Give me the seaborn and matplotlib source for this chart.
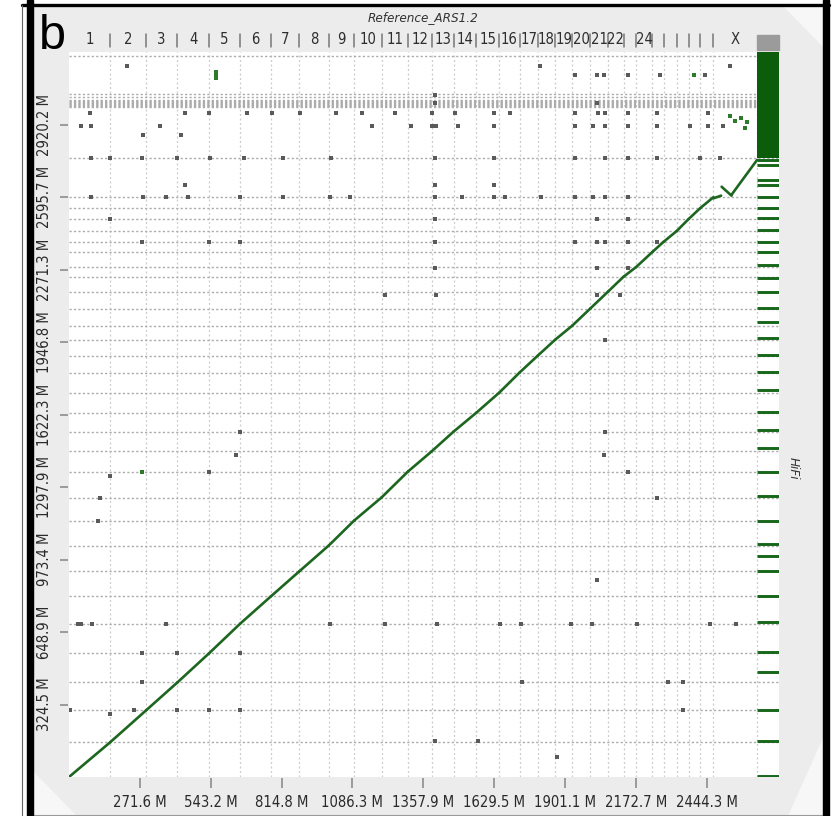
import numpy as np
import pandas as pd
import matplotlib
matplotlib.use("Agg")
import matplotlib.pyplot as plt
import seaborn as sns
from matplotlib import transforms, font_manager as fm
from matplotlib.patches import Rectangle, Polygon
from matplotlib.lines import Line2D

# ------------------------------------------------------------------ data
ref_chroms = [str(i) for i in range(1, 30)] + ["X"]
ref_labels = [str(i) for i in range(1, 23)] + ["", "24", "", "", "", "", "", "X"]
# cumulative end (M) of every reference (ARS1.2) chromosome
ref_ends = [157.4, 295.2, 415.3, 536.4, 656.9, 773.6, 882.5, 995.8, 1093.4,
            1198.2, 1299.3, 1389.9, 1474.5, 1562.2, 1649.2, 1727.2, 1797.3,
            1863.6, 1929.3, 1997.8, 2066.1, 2125.9, 2174.8, 2236.6, 2279.2,
            2330.1, 2375.1, 2419.8, 2470.5, 2638.0]
ref_total = 2722.0
# cumulative end (M) of every HiFi chromosome, same order
hifi_ends = [155, 298, 423, 553, 687, 808, 920, 1036, 1148, 1251, 1367, 1457,
             1546, 1631, 1720, 1810, 1886, 1957, 2020, 2096, 2172, 2239, 2283,
             2350, 2395, 2444, 2497, 2546, 2595, 2770]
# boundaries of unplaced HiFi contigs
hifi_unplaced = [2998, 3002, 3007, 3011, 3016, 3020, 3025, 3029, 3044, 3055, 3226]
hifi_total = 3245.0

x_ticks = [271.6, 543.2, 814.8, 1086.3, 1357.9, 1629.5, 1901.1, 2172.7, 2444.3]
y_ticks = [324.5, 648.9, 973.4, 1297.9, 1622.3, 1946.8, 2271.3, 2595.7, 2920.2]

# chromosome X alignments (with a small inversion)
x_aln_ref = [(2470.5, 2500.0), (2502.0, 2540.0), (2540.0, 2638.0)]
x_aln_hifi = [(2590.0, 2602.0), (2642.0, 2602.0), (2606.0, 2762.0)]

# hits of HiFi contigs on the unplaced reference scaffolds
unplaced_hits = [2761, 2738, 2671, 2649, 2595, 2546, 2501, 2448, 2395, 2350,
                 2292, 2233, 2171, 2100, 2037, 1966, 1890, 1814, 1734, 1635,
                 1555, 1474, 1367, 1256, 1145, 1042, 988, 921, 809, 693, 559,
                 469, 298, 159, 3]
unplaced_block = (2770.0, 3245.0)

# scattered off-diagonal hits (ref M, HiFi M)
dot_ref = [222, 1806, 2535, 1940, 2025, 2052, 2144, 2266, 2439,
           1403, 1403, 2025,
           80, 445, 536, 682, 778, 885, 1024, 1124, 1250, 1392, 1480, 1630, 1692,
           1940, 2029, 2056, 2144, 2256, 2451,
           45, 84, 348, 1162, 1312, 1392, 1408, 1492, 1630, 1940, 2009, 2056, 2144,
           2256, 2381, 2451, 2509,
           283, 429,
           84, 157, 279, 414, 540, 670, 820, 1005, 1403, 1630, 1940, 2056, 2144, 2256, 2420, 2497,
           445, 1403, 1630,
           84, 283, 371, 456, 655, 820, 1000, 1077, 1403, 1507, 1630, 1672, 1810, 1940, 2009, 2056, 2144,
           157, 1403, 2025, 2144,
           279, 536, 655, 1403, 1940, 2025, 2056, 2144, 2256,
           1403, 2025, 2144,
           1211, 1408, 2025, 2113,
           2056, 655, 2056, 641, 2052, 536, 2144, 157, 118, 2256, 110, 2025,
           34, 45, 88, 371, 1001, 1211, 1411, 1653, 1733, 1926, 2006, 2178, 2458, 2558,
           279, 414, 655,
           279, 1737, 2298, 2355,
           3, 249, 414, 536, 655, 2355, 157,
           1403, 1568, 1871]
dot_hifi = [3181, 3181, 3181, 3141, 3141, 3141, 3141, 3141, 3141,
            3051, 3015, 3015,
            2970, 2970, 2970, 2970, 2970, 2970, 2970, 2970, 2970, 2970, 2970, 2970, 2970,
            2970, 2970, 2970, 2970, 2970, 2970,
            2913, 2913, 2913, 2913, 2913, 2913, 2913, 2913, 2913, 2913, 2913, 2913, 2913,
            2913, 2913, 2913, 2913,
            2873, 2873,
            2770, 2770, 2770, 2770, 2770, 2770, 2770, 2770, 2770, 2770, 2770, 2770, 2770, 2770, 2770, 2770,
            2649, 2649, 2649,
            2595, 2595, 2595, 2595, 2595, 2595, 2595, 2595, 2595, 2595, 2595, 2595, 2595, 2595, 2595, 2595, 2595,
            2497, 2497, 2497, 2497,
            2395, 2395, 2395, 2395, 2395, 2395, 2395, 2395, 2395,
            2278, 2278, 2278,
            2157, 2157, 2157, 2157,
            1957, 1546, 1546, 1443, 1443, 1367, 1367, 1345, 1251, 1251, 1148, 883,
            687, 687, 687, 687, 687, 687, 687, 687, 687, 687, 687, 687, 687, 687,
            553, 553, 553,
            423, 423, 423, 423,
            298, 298, 298, 298, 298, 298, 284,
            159, 159, 88]
green_dot_ref = [564, 564, 564, 279, 2397, 2535, 2555, 2575, 2600, 2590]
green_dot_hifi = [3154, 3141, 3127, 1367, 3141, 2960, 2935, 2950, 2930, 2905]

# ------------------------------------------------------------------ style
sns.set_style("white")
names = {f.name for f in fm.fontManager.ttflist}
NARROW = "Liberation Sans Narrow" if "Liberation Sans Narrow" in names else "DejaVu Sans"
plt.rcParams["font.family"] = [NARROW, "DejaVu Sans"]
STRETCH = "normal" if NARROW != "DejaVu Sans" else "condensed"
SCALE = 1.0 if NARROW != "DejaVu Sans" else 0.92

W, H = 835, 816
fig = plt.figure(figsize=(W / 100, H / 100), dpi=100, facecolor="white")


def fx(px):
    return px / W


def fy(py):
    return 1 - py / H


# background frame (drawn below the axes)
fig.patches.append(Rectangle((fx(33), fy(816)), fx(823) - fx(33), fy(6) - fy(816),
                             transform=fig.transFigure, color="#ececec", zorder=-10))
for pts in ([(33, 772), (33, 816), (76, 816)],
            [(784, 6), (823, 6), (823, 46)],
            [(823, 738), (823, 816), (788, 816)]):
    fig.patches.append(Polygon([(fx(a), fy(b)) for a, b in pts], closed=True,
                               transform=fig.transFigure, color="#f7f7f7", zorder=-9))
fig.patches.append(Rectangle((fx(27), 0), fx(6), 1, transform=fig.transFigure,
                             color="black", zorder=5))
fig.patches.append(Rectangle((fx(823), 0), fx(6), 1, transform=fig.transFigure,
                             color="black", zorder=5))
fig.lines.append(Line2D([fx(22), fx(829)], [fy(4.5), fy(4.5)], transform=fig.transFigure,
                        color="black", lw=2.4, zorder=5))
fig.lines.append(Line2D([fx(22), fx(22)], [0, fy(4.5)], transform=fig.transFigure,
                        color="#666666", lw=0.8, zorder=5))
fig.lines.append(Line2D([fx(33), fx(823)], [fy(814.5), fy(814.5)], transform=fig.transFigure,
                        color="#9a9a9a", lw=0.8, zorder=5))

ax = fig.add_axes([fx(69), fy(777), fx(779) - fx(69), fy(52) - fy(777)])
ax.set_zorder(2)
ax.set_facecolor("white")
ax.set_xlim(0, ref_total)
ax.set_ylim(0, hifi_total)
for s in ax.spines.values():
    s.set_visible(False)
ax.spines["bottom"].set_position(("outward", 1))
ax.spines["left"].set_position(("outward", 1))

# grid of chromosome / contig boundaries
ax.vlines(ref_ends, 0, hifi_total, colors="#cdcdcd", linestyles=(0, (1.6, 2.0)),
          lw=0.9, zorder=1)
ax.hlines(hifi_ends + hifi_unplaced, 0, ref_total, colors="#ababab",
          linestyles=(0, (1.6, 1.6)), lw=1.0, zorder=1)

# scattered hits
sns.scatterplot(x=dot_ref, y=dot_hifi, ax=ax, color="#5a5a5a", s=5.2, marker="s",
                linewidth=0, zorder=2)
sns.scatterplot(x=green_dot_ref, y=green_dot_hifi, ax=ax, color="#2d7a2d", s=5.2,
                marker="s", linewidth=0, zorder=2)

# main diagonal alignments
rows = []
prev_r, prev_h = 0.0, 0.0
for i in range(29):
    rows.append(dict(seg=i, ref=prev_r, hifi=prev_h))
    rows.append(dict(seg=i, ref=ref_ends[i], hifi=hifi_ends[i]))
    prev_r, prev_h = ref_ends[i], hifi_ends[i]
for j, (rr, hh) in enumerate(zip(x_aln_ref, x_aln_hifi)):
    rows.append(dict(seg=100 + j, ref=rr[0], hifi=hh[0]))
    rows.append(dict(seg=100 + j, ref=rr[1], hifi=hh[1]))
aln = pd.DataFrame(rows)
sns.lineplot(data=aln, x="ref", y="hifi", units="seg", estimator=None, sort=False,
             ax=ax, color="#1d6620", lw=1.9, zorder=3)

# unplaced reference scaffolds column
ax.fill_between([ref_ends[-1], ref_total], unplaced_block[0], unplaced_block[1],
                color="#0b5c0b", lw=0, zorder=3)
ax.hlines(unplaced_hits, ref_ends[-1], ref_total, colors="#17661a", lw=2.1, zorder=3)
blend_top = transforms.blended_transform_factory(ax.transData, fig.transFigure)
ax.add_patch(Rectangle((ref_ends[-1], fy(50)), ref_total - ref_ends[-1], fy(35) - fy(50),
                       transform=blend_top, color="#9b9b9b", clip_on=False, zorder=4))

# chromosome labels along the top
starts = [0.0] + ref_ends[:-1]
for lab, s0, e0 in zip(ref_labels, starts, ref_ends):
    if lab:
        ax.text((s0 + e0) / 2, fy(40), lab, transform=blend_top, ha="center", va="center",
                fontsize=11.5 * SCALE, color="#2e2e2e", fontstretch=STRETCH, clip_on=False)
for e0 in ref_ends[:-1]:
    ax.add_line(Line2D([e0, e0], [fy(47), fy(34)], transform=blend_top, color="#777777",
                       lw=1.1, clip_on=False))

# ticks
ax.set_xticks(x_ticks)
ax.set_xticklabels([f"{v:.1f} M" for v in x_ticks], fontsize=11.5 * SCALE, color="#2a2a2a",
                   fontstretch=STRETCH)
ax.set_yticks(y_ticks)
ax.set_yticklabels([f"{v:.1f} M" for v in y_ticks], fontsize=11.5 * SCALE, color="#2a2a2a",
                   rotation=90, va="center", fontstretch=STRETCH)
ax.tick_params(axis="x", length=7, width=1.2, color="#8c8c8c", pad=5, bottom=True)
ax.tick_params(axis="y", length=6, width=1.2, color="#8c8c8c", pad=5, left=True)
ax.set_xlabel("")
ax.set_ylabel("")

# titles
fig.text(fx(423), fy(18), "Reference_ARS1.2", ha="center", va="center",
         fontsize=10.5 * SCALE, style="italic", color="#333333", fontstretch=STRETCH)
fig.text(fx(793), fy(468), "HiFi", ha="center", va="center", fontsize=10.5 * SCALE,
         style="italic", rotation=270, color="#333333", fontstretch=STRETCH)
fig.text(fx(39), fy(49), "b", ha="left", va="baseline", fontsize=35,
         family=["Liberation Sans", "DejaVu Sans"], color="black")

fig.savefig("out.png", dpi=100, facecolor="white")
